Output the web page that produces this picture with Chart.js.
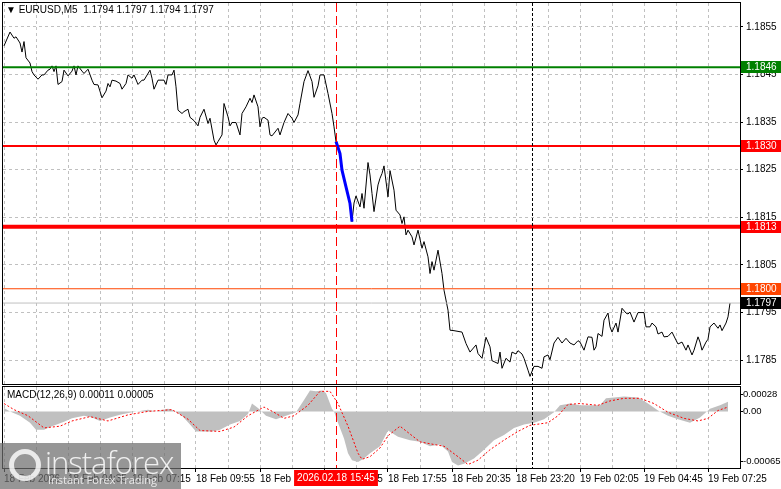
<!DOCTYPE html>
<html>
<head>
<meta charset="utf-8">
<script src="https://cdn.jsdelivr.net/npm/chart.js@4/dist/chart.umd.min.js"></script>
<style>
  html, body { margin: 0; padding: 0; background: #fff; width: 781px; height: 489px; overflow: hidden; }
  #wrap { position: relative; width: 781px; height: 489px; }
  canvas { position: absolute; left: 0; }
  #cMain { top: 0; }
  #cMacd { top: 385px; }
  .txt { position: absolute; font: 10px "Liberation Sans", Arial, sans-serif; color: #000; white-space: pre; line-height: 12px; }
  #logo { position: absolute; left: 0; top: 443px; width: 181px; height: 46px; background: rgba(110,110,110,0.72); }
  #logo .ring { position: absolute; left: 9px; top: 6px; width: 22px; height: 22px; border: 5px solid rgba(255,255,255,0.8); border-radius: 50%; }
  #logo .big { position: absolute; left: 45px; top: -2px; font: 300 31px "Open Sans", sans-serif; color: rgba(255,255,255,0.85); letter-spacing: -1px; }
  #logo .small { position: absolute; left: 48px; top: 29px; font: 11px "Open Sans", sans-serif; color: rgba(255,255,255,0.8); }
</style>
</head>
<body>
<div id="wrap">
  <canvas id="cMain" width="781" height="385"></canvas>
  <canvas id="cMacd" width="781" height="104"></canvas>
  <div class="txt" style="left:6px;top:4px;">▼ EURUSD,M5  1.1794 1.1797 1.1794 1.1797</div>
  <div class="txt" style="left:7px;top:389px;">MACD(12,26,9) 0.00011 0.00005</div>
  <div id="logo"><div class="ring"></div><div class="big">instaforex</div><div class="small">Instant Forex Trading</div></div>
</div>
<script>
/* EURUSD M5 with levels + MACD sub window */

// bar index (5-minute bars from the left edge) and close price
const priceBar = [0,3,5,6,8,9,10,11,13,14,15,17,19,20,22,23,24,25,26,27,29,30,32,34,35,36,37,39,40,42,44,45,47,49,51,52,53,54,56,58,59,61,62,64,65,67,69,70,73,74,75,77,80,81,82,84,85,86,87,89,90,92,93,95,97,98,100,102,103,105,106,107,109,110,112,113,114,116,118,119,121,123,124,125,127,128,129,130,132,133,134,137,138,140,142,144,145,147,148,150,152,154,155,157,158,160,162,164,165,166,168,169,171,173,174,175,176,178,179,180,182,183,184,185,187,188,189,190,192,193,195,196,198,199,200,201,202,204,205,207,209,210,212,213,214,215,217,219,220,222,223,225,229,231,233,236,237,239,241,243,244,247,248,249,251,253,254,256,257,259,260,262,263,265,267,269,270,272,273,275,277,279,281,283,285,287,288,290,292,294,295,296,297,299,300,302,303,304,306,307,309,311,312,313,315,317,320,321,323,324,326,327,329,330,332,334,336,337,339,341,342,344,345,347,348,349,351,352,353,355,357,358,359,361,362,363];
const priceClose = [1.18510,1.18539,1.18526,1.18529,1.18516,1.18497,1.18519,1.18485,1.18474,1.18456,1.18449,1.18440,1.18449,1.18449,1.18459,1.18461,1.18468,1.18456,1.18468,1.18429,1.18435,1.18459,1.18447,1.18457,1.18468,1.18449,1.18468,1.18457,1.18452,1.18461,1.18438,1.18429,1.18428,1.18401,1.18415,1.18431,1.18424,1.18438,1.18436,1.18431,1.18419,1.18431,1.18449,1.18442,1.18449,1.18429,1.18438,1.18438,1.18459,1.18442,1.18419,1.18438,1.18438,1.18429,1.18449,1.18449,1.18459,1.18424,1.18375,1.18368,1.18372,1.18377,1.18360,1.18353,1.18342,1.18360,1.18377,1.18347,1.18358,1.18312,1.18302,1.18309,1.18323,1.18389,1.18361,1.18342,1.18349,1.18349,1.18323,1.18368,1.18382,1.18400,1.18391,1.18407,1.18382,1.18340,1.18358,1.18360,1.18354,1.18323,1.18321,1.18337,1.18323,1.18349,1.18368,1.18358,1.18349,1.18365,1.18389,1.18435,1.18458,1.18435,1.18402,1.18426,1.18449,1.18449,1.18410,1.18368,1.18340,1.18309,1.18284,1.18249,1.18214,1.18179,1.18141,1.18180,1.18195,1.18172,1.18200,1.18169,1.18265,1.18239,1.18200,1.18162,1.18218,1.18232,1.18242,1.18258,1.18193,1.18248,1.18207,1.18165,1.18155,1.18137,1.18151,1.18113,1.18123,1.18109,1.18092,1.18123,1.18085,1.18099,1.18067,1.18032,1.18057,1.18039,1.18081,1.18032,1.17997,1.17955,1.17913,1.17912,1.17909,1.17885,1.17867,1.17882,1.17864,1.17854,1.17898,1.17878,1.17849,1.17843,1.17867,1.17833,1.17854,1.17846,1.17867,1.17863,1.17870,1.17863,1.17854,1.17829,1.17816,1.17837,1.17837,1.17833,1.17857,1.17861,1.17851,1.17886,1.17898,1.17886,1.17896,1.17886,1.17882,1.17891,1.17888,1.17871,1.17899,1.17898,1.17871,1.17878,1.17906,1.17900,1.17934,1.17949,1.17920,1.17909,1.17928,1.17909,1.17959,1.17949,1.17947,1.17951,1.17930,1.17950,1.17950,1.17920,1.17920,1.17928,1.17920,1.17905,1.17909,1.17899,1.17900,1.17909,1.17892,1.17884,1.17888,1.17871,1.17882,1.17861,1.17871,1.17899,1.17888,1.17871,1.17888,1.17894,1.17920,1.17928,1.17917,1.17924,1.17912,1.17928,1.17941,1.17970];

// blue impulse drawn over the drop after the marker
const impulseFrom = 166, impulseTo = 174;

// horizontal levels (value, tag text)
const levelValue = [1.18465, 1.1830, 1.1813, 1.1800, 1.1797];
const levelLabel = ['1.1846', '1.1830', '1.1813', '1.1800', '1.1797'];
const levelColor = ['#008000', '#ff0000', '#ff0000', '#ff4500', '#c0c0c0'];
const levelWidth = [2, 2, 4, 1, 1];
const tagBg = ['#008000', '#ff0000', '#ff0000', '#ff4500', '#000000'];

const priceTicks = [1.1785, 1.1795, 1.1805, 1.1815, 1.1825, 1.1835, 1.1845, 1.1855];

// MACD main (histogram) and signal
const macdBar = [0,3,8,13,16,20,24,30,34,40,44,48,53,58,64,72,76,82,84,89,93,96,100,104,108,113,118,122,124,127,131,136,141,146,150,153,156,159,161,164,165,167,170,172,174,177,180,183,188,192,197,203,208,213,218,222,224,227,230,235,240,245,250,255,260,265,270,275,278,283,288,293,298,301,305,310,317,322,327,332,337,343,348,353,358,362];
const macdHist = [0.00004,0.00000,-0.00005,-0.00013,-0.00021,-0.00021,-0.00017,-0.00012,-0.00008,-0.00005,-0.00007,-0.00011,-0.00007,-0.00004,-0.00001,0.00002,0.00000,0.00003,0.00002,-0.00005,-0.00015,-0.00023,-0.00023,-0.00023,-0.00021,-0.00015,-0.00011,-0.00003,0.00009,0.00004,-0.00005,-0.00009,-0.00005,-0.00001,0.00013,0.00024,0.00023,0.00024,0.00021,0.00003,0.00000,-0.00013,-0.00031,-0.00048,-0.00056,-0.00058,-0.00054,-0.00048,-0.00040,-0.00022,-0.00029,-0.00033,-0.00035,-0.00040,-0.00038,-0.00046,-0.00058,-0.00062,-0.00060,-0.00054,-0.00044,-0.00033,-0.00027,-0.00019,-0.00015,-0.00013,-0.00009,-0.00001,0.00007,0.00009,0.00007,0.00007,0.00007,0.00015,0.00016,0.00017,0.00016,0.00009,0.00001,-0.00005,-0.00009,-0.00013,-0.00007,0.00003,0.00007,0.00011];
const signalBar = [0,5,12,20,28,34,43,52,62,72,84,92,98,108,115,122,130,135,140,145,152,158,163,167,172,177,179,183,188,192,198,203,208,215,220,227,232,237,243,250,257,263,272,277,282,288,297,303,310,318,325,332,340,347,352,357,362];
const signalVal = [0.00009,0.00002,-0.00005,-0.00019,-0.00017,-0.00011,-0.00006,-0.00011,-0.00004,0.00000,0.00002,-0.00009,-0.00022,-0.00023,-0.00018,-0.00005,0.00005,-0.00001,-0.00008,-0.00005,0.00007,0.00023,0.00023,0.00009,-0.00017,-0.00048,-0.00055,-0.00052,-0.00042,-0.00028,-0.00017,-0.00026,-0.00035,-0.00038,-0.00040,-0.00052,-0.00061,-0.00056,-0.00044,-0.00033,-0.00023,-0.00016,-0.00013,-0.00005,0.00008,0.00009,0.00007,0.00012,0.00015,0.00015,0.00009,-0.00001,-0.00008,-0.00011,-0.00008,0.00001,0.00005];
const macdTickVal = [0.00028, 0, -0.00065];
const macdTickText = ['0.00028', '0.00', '-0.00065'];

// time axis: one label every 32 bars
const timeLabels = ['18 Feb 2026','18 Feb 04:35','18 Feb 07:15','18 Feb 09:55','18 Feb 12:35','18 Feb 15:15','18 Feb 17:55','18 Feb 20:35','18 Feb 23:20','19 Feb 02:05','19 Feb 04:45','19 Feb 07:25'];

// vertical markers: crosshair bar and day separator
const markerBar = [166, 264];
const markerColor = ['#ff0000', '#000000'];
const markerDash = [[9, 4], [3, 2]];
const cursorLabel = '2026.02.18 15:45';

const X_MIN = -0.5, X_MAX = 368;
const FONT = '10px "Liberation Sans", Arial, sans-serif';
const SMALL_FONT = '9.5px "Liberation Sans", Arial, sans-serif';
const TICK_FONT = { family: '"Liberation Sans", Arial', size: 10 };
const GRID = '#c0c0c0';

const pts = (xs, ys) => xs.map((x, i) => ({ x, y: ys[i] }));
const gridTicks = s => {
  const t = [];
  for (let v = 0; v <= X_MAX; v += 16) t.push({ value: v });
  s.ticks = t;
};

function drawFrame(chart) {
  const { ctx, chartArea: a } = chart;
  ctx.save();
  ctx.strokeStyle = '#000';
  ctx.lineWidth = 1;
  ctx.strokeRect(a.left - 0.5, a.top - 0.5, a.right - a.left + 1, a.bottom - a.top + 1);
  ctx.restore();
}

function drawMarkers(chart) {
  const { ctx, chartArea: a, scales: { x } } = chart;
  markerBar.forEach((b, i) => {
    const px = Math.round(x.getPixelForValue(b)) + 0.5;
    ctx.save();
    ctx.strokeStyle = markerColor[i];
    ctx.setLineDash(markerDash[i]);
    ctx.lineWidth = 1;
    ctx.beginPath();
    ctx.moveTo(px, a.top);
    ctx.lineTo(px, a.bottom);
    ctx.stroke();
    ctx.restore();
  });
}

const mainDecor = {
  id: 'mainDecor',
  afterDatasetsDraw: drawMarkers,
  afterDraw(chart) {
    const { ctx, chartArea: a, scales: { y } } = chart;
    drawFrame(chart);
    ctx.save();
    ctx.font = FONT;
    ctx.textBaseline = 'middle';
    levelValue.forEach((v, i) => {
      const py = Math.round(y.getPixelForValue(v));
      ctx.fillStyle = tagBg[i];
      ctx.fillRect(a.right + 1, py - 6, 40, 12);
      ctx.fillStyle = '#fff';
      ctx.fillText(levelLabel[i], a.right + 6, py + 0.5);
    });
    ctx.restore();
  }
};

const macdDecor = {
  id: 'macdDecor',
  afterDatasetsDraw: drawMarkers,
  afterDraw(chart) {
    const { ctx, chartArea: a, scales: { x, y } } = chart;
    drawFrame(chart);
    ctx.save();
    ctx.font = SMALL_FONT;
    ctx.textBaseline = 'middle';
    ctx.fillStyle = '#000';
    ctx.strokeStyle = '#000';
    macdTickVal.forEach((v, i) => {
      const py = Math.min(Math.max(y.getPixelForValue(v), a.top + 7), a.bottom - 7);
      ctx.beginPath();
      ctx.moveTo(a.right, Math.round(py) + 0.5);
      ctx.lineTo(a.right + 3, Math.round(py) + 0.5);
      ctx.stroke();
      ctx.fillText(macdTickText[i], a.right + 3, py);
    });
    // cursor time tag on the time axis
    ctx.font = FONT;
    const cx = Math.round(x.getPixelForValue(markerBar[0]));
    const w = ctx.measureText(cursorLabel).width + 6;
    ctx.fillStyle = '#ff0000';
    ctx.fillRect(cx - w / 2, a.bottom + 2, w, 16);
    ctx.fillStyle = '#fff';
    ctx.textAlign = 'center';
    ctx.fillText(cursorLabel, cx, a.bottom + 10.5);
    ctx.restore();
  }
};

const lineDefaults = { pointRadius: 0, tension: 0, fill: false, spanGaps: true };

new Chart(document.getElementById('cMain'), {
  type: 'line',
  data: {
    datasets: [
      Object.assign({ data: pts(priceBar, priceClose).filter(p => p.x >= impulseFrom && p.x <= impulseTo),
        borderColor: '#0000ff', borderWidth: 3, order: 0 }, lineDefaults),
      ...levelValue.map((v, i) => Object.assign({
        data: [{ x: X_MIN, y: v }, { x: X_MAX, y: v }],
        borderColor: levelColor[i], borderWidth: levelWidth[i], order: 1 }, lineDefaults)),
      Object.assign({ data: pts(priceBar, priceClose), borderColor: '#000', borderWidth: 1, order: 2 }, lineDefaults)
    ]
  },
  options: {
    responsive: false, animation: false, devicePixelRatio: 1,
    layout: { padding: { left: 3, top: 3, right: 0, bottom: 1 } },
    plugins: { legend: { display: false }, tooltip: { enabled: false } },
    scales: {
      x: {
        type: 'linear', min: X_MIN, max: X_MAX,
        afterBuildTicks: gridTicks,
        ticks: { display: false },
        grid: { color: GRID, drawTicks: false },
        border: { display: false, dash: [3, 3] },
        afterFit: s => { s.height = 0; s.paddingLeft = 0; s.paddingRight = 0; }
      },
      y: {
        position: 'right', min: 1.178, max: 1.186,
        afterBuildTicks: s => { s.ticks = priceTicks.map(v => ({ value: v })); },
        ticks: { font: TICK_FONT, color: '#000', padding: 3, callback: v => v.toFixed(4) },
        grid: { color: GRID, tickColor: '#000', tickLength: 3, tickBorderDash: [] },
        border: { display: false, dash: [3, 3] },
        afterFit: s => { s.width = 41; s.paddingTop = 0; s.paddingBottom = 0; }
      }
    }
  },
  plugins: [mainDecor]
});

new Chart(document.getElementById('cMacd'), {
  type: 'line',
  data: {
    datasets: [
      Object.assign({ data: pts(signalBar, signalVal), borderColor: '#ff0000', borderWidth: 1,
        borderDash: [2, 2], order: 0 }, lineDefaults),
      Object.assign({}, lineDefaults, { data: pts(macdBar, macdHist), borderWidth: 0, borderColor: '#c0c0c0',
        backgroundColor: '#c0c0c0', fill: 'origin', order: 1 })
    ]
  },
  options: {
    responsive: false, animation: false, devicePixelRatio: 1,
    layout: { padding: { left: 3, top: 2, right: 0, bottom: 0 } },
    plugins: { legend: { display: false }, tooltip: { enabled: false } },
    scales: {
      x: {
        type: 'linear', min: X_MIN, max: X_MAX,
        afterBuildTicks: gridTicks,
        ticks: { align: 'start', autoSkip: false, maxRotation: 0, padding: 1, color: '#000',
                 font: TICK_FONT,
                 callback: v => (v % 32 === 0 ? timeLabels[v / 32] : '') },
        grid: { color: GRID, tickLength: 4, tickBorderDash: [],
                tickColor: c => (c.tick && c.tick.value % 32 === 0 ? '#000' : 'rgba(0,0,0,0)') },
        border: { display: false, dash: [3, 3] },
        afterFit: s => { s.height = 21; s.paddingLeft = 0; s.paddingRight = 0; }
      },
      y: {
        position: 'right', min: -0.00065, max: 0.00028,
        ticks: { display: false },
        grid: { display: false },
        border: { display: false },
        afterFit: s => { s.width = 41; s.paddingTop = 0; s.paddingBottom = 0; }
      }
    }
  },
  plugins: [macdDecor]
});
</script>
</body>
</html>
